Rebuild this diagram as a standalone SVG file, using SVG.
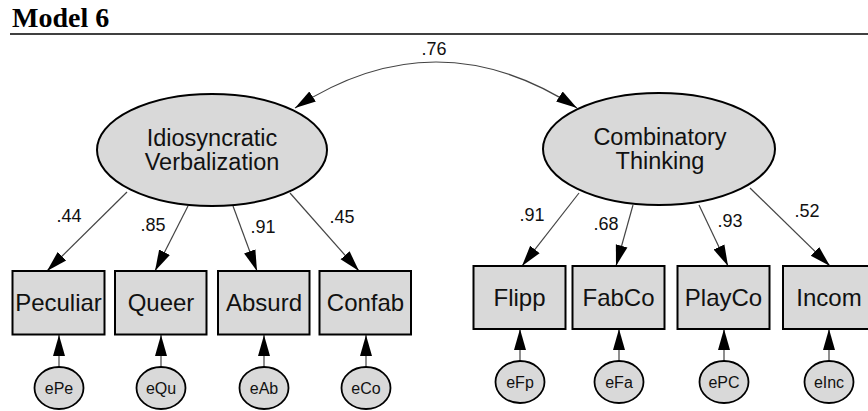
<svg xmlns="http://www.w3.org/2000/svg" width="868" height="411" viewBox="0 0 868 411">
<defs>
<marker id="ah" markerUnits="userSpaceOnUse" markerWidth="22" markerHeight="14" viewBox="0 0 22 14" refX="21" refY="7" orient="auto-start-reverse">
<path d="M0,1 L21,7 L0,13 z" fill="#000"/>
</marker>
</defs>
<style>
.lat{fill:#d9d9d9;stroke:#000;stroke-width:2}
.box{fill:#d9d9d9;stroke:#000;stroke-width:2}
.err{fill:#d9d9d9;stroke:#000;stroke-width:1.8}
.ln{fill:none;stroke:#444;stroke-width:1.2}
text{font-family:"Liberation Sans",Arial,sans-serif;fill:#111}
.lt{font-size:23.5px;text-anchor:middle}
.bt{font-size:24px;text-anchor:middle}
.et{font-size:16px;text-anchor:middle}
.nt{font-size:18px;text-anchor:middle}
.title{font-family:"Liberation Serif","Times New Roman",serif;font-weight:bold;font-size:28px;fill:#000}
</style>
<rect x="0" y="0" width="868" height="411" fill="#fff"/>
<text class="title" x="12" y="27">Model 6</text>
<line x1="10" y1="34" x2="868" y2="34" stroke="#000" stroke-width="1.5"/>

<g id="connectors">
<path class="ln" d="M295,108 Q436,16 577,108" marker-start="url(#ah)" marker-end="url(#ah)"/>
<line class="ln" x1="127" y1="192" x2="47" y2="271" marker-end="url(#ah)"/>
<line class="ln" x1="188" y1="206" x2="155" y2="271" marker-end="url(#ah)"/>
<line class="ln" x1="233" y1="206" x2="257" y2="271" marker-end="url(#ah)"/>
<line class="ln" x1="290" y1="193" x2="359" y2="271" marker-end="url(#ah)"/>
<line class="ln" x1="579" y1="193" x2="522" y2="266" marker-end="url(#ah)"/>
<line class="ln" x1="633" y1="205" x2="616" y2="266" marker-end="url(#ah)"/>
<line class="ln" x1="699" y1="205" x2="728" y2="266" marker-end="url(#ah)"/>
<line class="ln" x1="750" y1="188" x2="830" y2="266" marker-end="url(#ah)"/>
<line class="ln" x1="59" y1="367" x2="59" y2="335" marker-end="url(#ah)"/>
<line class="ln" x1="161" y1="367" x2="161" y2="335" marker-end="url(#ah)"/>
<line class="ln" x1="264" y1="367" x2="264" y2="335" marker-end="url(#ah)"/>
<line class="ln" x1="366" y1="367" x2="366" y2="335" marker-end="url(#ah)"/>
<line class="ln" x1="520" y1="361" x2="520" y2="329" marker-end="url(#ah)"/>
<line class="ln" x1="619" y1="361" x2="619" y2="329" marker-end="url(#ah)"/>
<line class="ln" x1="724" y1="361" x2="724" y2="329" marker-end="url(#ah)"/>
<line class="ln" x1="829" y1="361" x2="829" y2="329" marker-end="url(#ah)"/>
<text class="nt" x="434" y="55">.76</text>
<text class="nt" x="69" y="222">.44</text>
<text class="nt" x="153" y="231">.85</text>
<text class="nt" x="263" y="233">.91</text>
<text class="nt" x="342" y="223">.45</text>
<text class="nt" x="532" y="221">.91</text>
<text class="nt" x="606" y="230">.68</text>
<text class="nt" x="730" y="227">.93</text>
<text class="nt" x="807" y="217">.52</text>
</g>

<g id="IdiosyncraticVerbalization">
<ellipse class="lat" cx="212" cy="150" rx="115" ry="56"/>
<text class="lt" x="212" y="146">Idiosyncratic</text>
<text class="lt" x="212" y="170">Verbalization</text>
</g>
<g id="CombinatoryThinking">
<ellipse class="lat" cx="659" cy="149" rx="116" ry="56"/>
<text class="lt" x="660" y="145">Combinatory</text>
<text class="lt" x="660" y="169">Thinking</text>
</g>

<g id="Peculiar"><rect class="box" x="12.5" y="271" width="92" height="63.5"/><text class="bt" x="58.5" y="311">Peculiar</text></g>
<g id="Queer"><rect class="box" x="115" y="271" width="91.5" height="63.5"/><text class="bt" x="161" y="311">Queer</text></g>
<g id="Absurd"><rect class="box" x="218" y="271" width="91.5" height="63.5"/><text class="bt" x="264" y="311">Absurd</text></g>
<g id="Confab"><rect class="box" x="319.5" y="271" width="91.5" height="63.5"/><text class="bt" x="365.5" y="311">Confab</text></g>
<g id="Flipp"><rect class="box" x="473.5" y="266" width="92" height="63"/><text class="bt" x="519.5" y="306">Flipp</text></g>
<g id="FabCo"><rect class="box" x="572.5" y="266" width="92" height="63"/><text class="bt" x="618.5" y="306">FabCo</text></g>
<g id="PlayCo"><rect class="box" x="677.5" y="266" width="92" height="63"/><text class="bt" x="723.5" y="306">PlayCo</text></g>
<g id="Incom"><rect class="box" x="783" y="266" width="92" height="63"/><text class="bt" x="829" y="306">Incom</text></g>

<g id="ePe"><ellipse class="err" cx="59" cy="388" rx="24.5" ry="21"/><text class="et" x="59" y="394">ePe</text></g>
<g id="eQu"><ellipse class="err" cx="161" cy="388" rx="24.5" ry="21"/><text class="et" x="161" y="394">eQu</text></g>
<g id="eAb"><ellipse class="err" cx="264" cy="388" rx="24.5" ry="21"/><text class="et" x="264" y="394">eAb</text></g>
<g id="eCo"><ellipse class="err" cx="366" cy="388" rx="24.5" ry="21"/><text class="et" x="366" y="394">eCo</text></g>
<g id="eFp"><ellipse class="err" cx="520" cy="382" rx="24.5" ry="21"/><text class="et" x="520" y="388">eFp</text></g>
<g id="eFa"><ellipse class="err" cx="619" cy="382" rx="24.5" ry="21"/><text class="et" x="619" y="388">eFa</text></g>
<g id="ePC"><ellipse class="err" cx="724" cy="382" rx="24.5" ry="21"/><text class="et" x="724" y="388">ePC</text></g>
<g id="eInc"><ellipse class="err" cx="829" cy="382" rx="24.5" ry="21"/><text class="et" x="829" y="388">eInc</text></g>
</svg>
